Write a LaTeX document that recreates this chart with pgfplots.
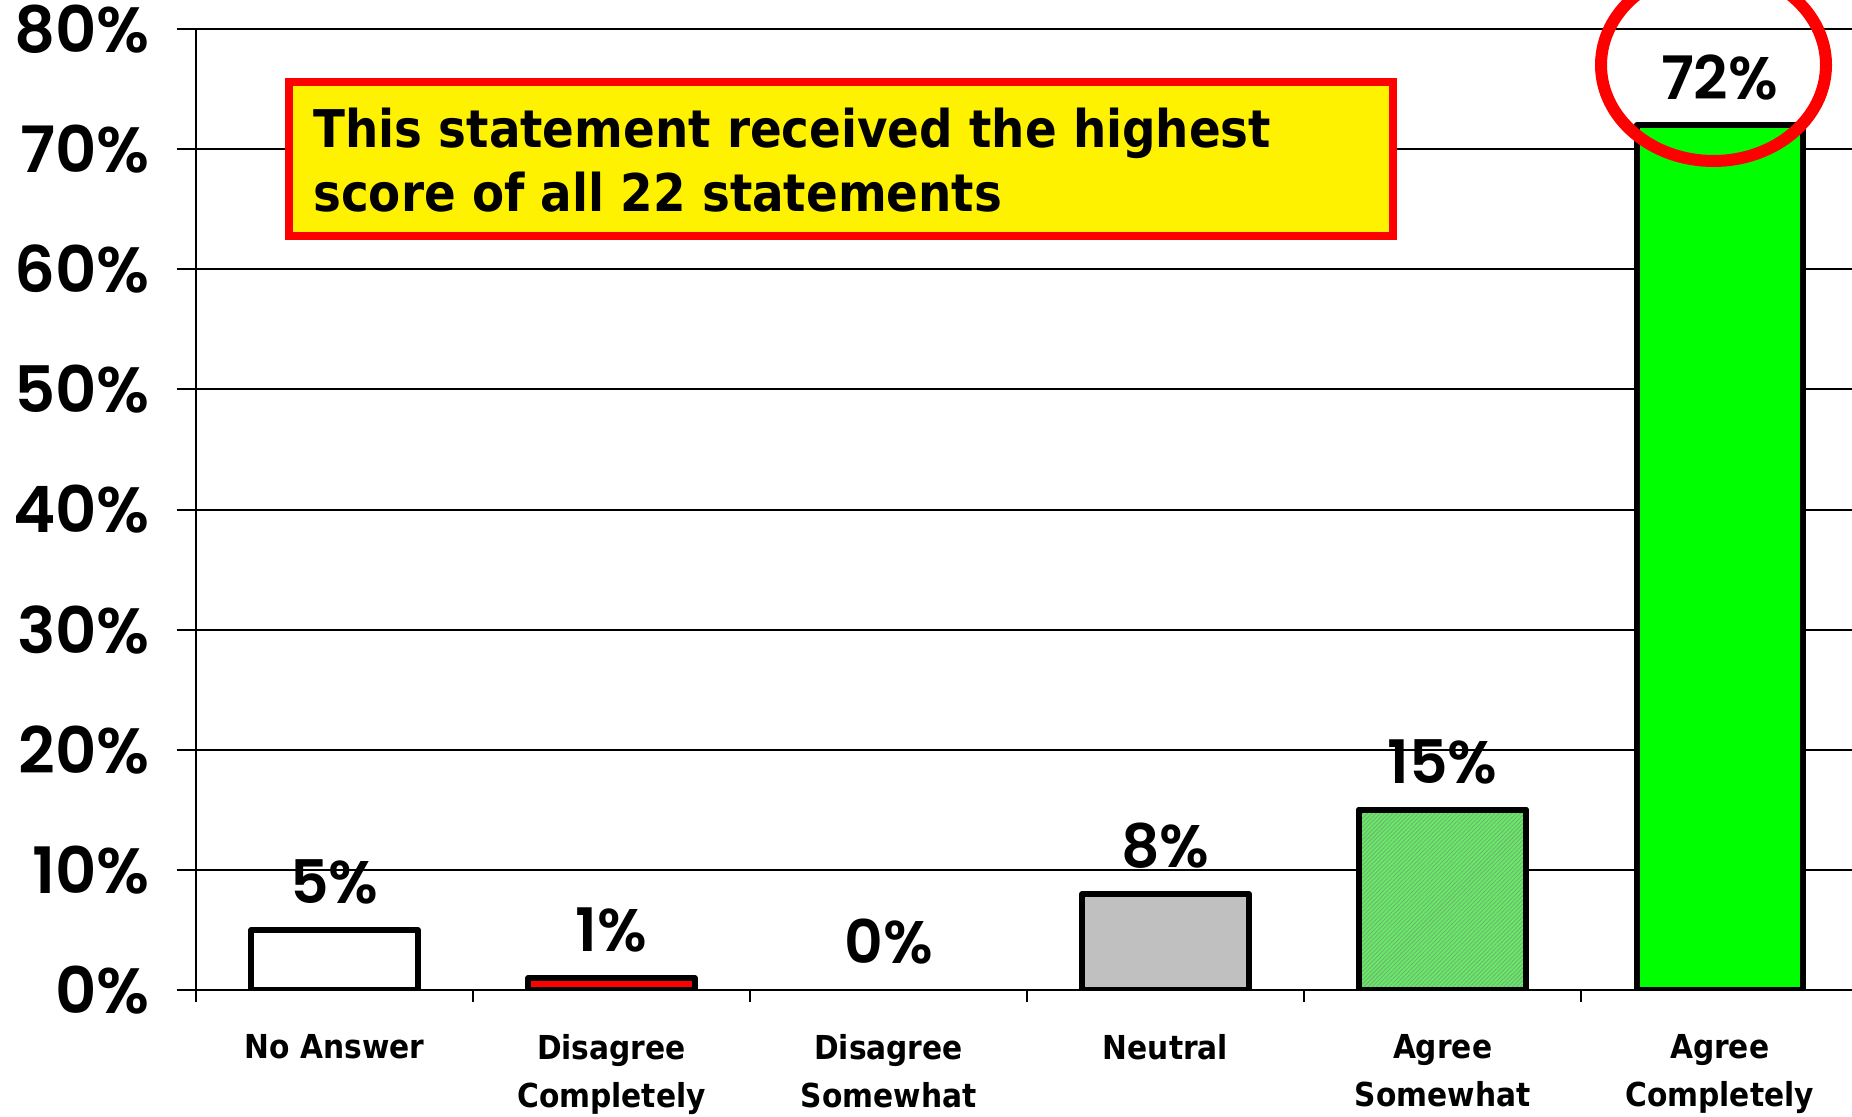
\documentclass[border=0pt]{standalone}
\usepackage{fontspec}
\setmainfont{DejaVu Sans Condensed}
\newfontfamily\numfont{Poppins}[UprightFont={* SemiBold}, BoldFont={* SemiBold}]
\usepackage{pgfplots}
\pgfplotsset{compat=1.18}
\usetikzlibrary{patterns.meta}

\definecolor{barGray}{RGB}{192,192,192}
\definecolor{barGreen}{RGB}{0,255,0}
\definecolor{hatchGreen}{RGB}{100,236,100}
\definecolor{hatchLine}{RGB}{120,175,120}

\begin{document}
\begin{tikzpicture}
\begin{axis}[
    scale only axis,
    width=828pt, height=480.5pt,
    xmin=-0.5, xmax=5.478,
    ymin=0, ymax=80,
    axis lines=left,
    axis line style={-, line width=1pt},
    ybar, bar width=0.6, bar shift=0pt,
    xtick={0,...,5},
    xticklabels={No Answer, Disagree\\Completely, Disagree\\Somewhat, Neutral, Agree\\Somewhat, Agree\\Completely},
    xticklabel style={align=center, yshift=-9pt, font=\bfseries\fontsize{16.5}{24}\selectfont},
    major x tick style={draw=none},
    minor xtick={-0.5,0.5,...,4.5},
    tick align=outside,
    major tick length=9.5pt,
    minor tick length=6pt,
    every tick/.append style={black, line width=1pt},
    ytick={0,10,...,80},
    yticklabels={0\%,10\%,20\%,30\%,40\%,50\%,60\%,70\%,80\%},
    yticklabel style={xshift=-10pt, font=\numfont\fontsize{32}{36}\selectfont},
    ymajorgrids,
    grid style={black, line width=1pt},
    point meta=y,
    nodes near coords={\pgfmathprintnumber[assume math mode=true, fixed, precision=0]{\pgfplotspointmeta}\%},
    every node near coord/.append style={text=black, anchor=center, yshift=24pt,
        font=\numfont\fontsize{30}{36}\selectfont},
    every axis plot/.append style={draw=black, line width=3pt, line join=round},
]
% No Answer
\addplot[fill=white] coordinates {(0,5)};
% Disagree Completely
\addplot[fill=red] coordinates {(1,1)};
% Disagree Somewhat
\addplot[draw=none, fill=none] coordinates {(2,0)};
% Neutral
\addplot[fill=barGray] coordinates {(3,8)};
% Agree Somewhat
\addplot[fill=hatchGreen, postaction={pattern={Lines[angle=45,distance=1.5pt,line width=0.45pt]}, pattern color=hatchLine}] coordinates {(4,15)};
% Agree Completely
\addplot[fill=barGreen] coordinates {(5,72)};
\end{axis}

% call-out box
\draw[red, line width=4pt, fill=yellow] (46.5pt,377pt) rectangle (598.5pt,454pt);
\node[anchor=base west, inner sep=0pt, font=\bfseries\fontsize{26}{30}\selectfont] at (58.5pt,421pt) {This statement received the highest};
\node[anchor=base west, inner sep=0pt, font=\bfseries\fontsize{26}{30}\selectfont] at (58.5pt,389.5pt) {score of all 22 statements};
% ring round the top bar
\draw[red, line width=6pt] (758.75pt,462.5pt) ellipse [x radius=56.25pt, y radius=48pt];

\pgfresetboundingbox
\path[use as bounding box] (-98pt,-63pt) rectangle (828pt,495pt);
\end{tikzpicture}
\end{document}
